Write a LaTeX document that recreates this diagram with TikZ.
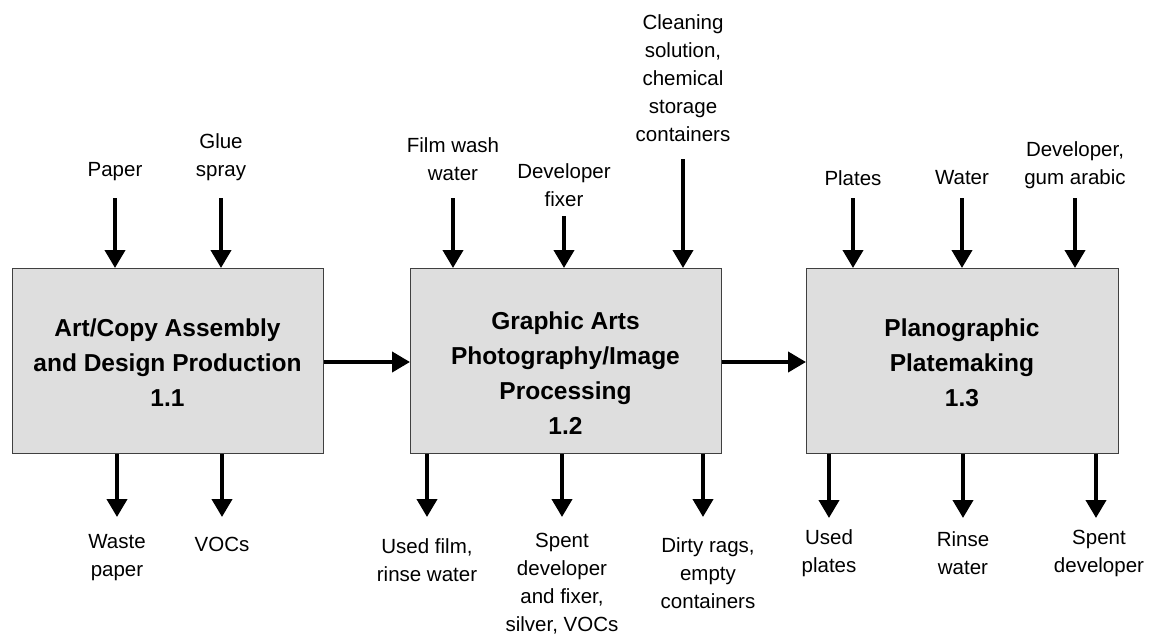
\documentclass[tikz,border=0pt]{standalone}
\usepackage{fontspec}
\setmainfont{Liberation Sans}
\usetikzlibrary{arrows.meta}
\tikzset{
  procbox/.style={draw=black!75, line width=1pt, fill=black!13, anchor=north west, inner sep=0pt},
  boxtext/.style={font=\fontsize{24.5}{35}\selectfont\bfseries, align=center, inner sep=0pt},
  lbl/.style={font=\fontsize{20.5}{28}\selectfont, align=center, inner sep=0pt},
  flow/.style={line width=4pt, -{Triangle[length=18pt,width=20pt]}},
}
\begin{document}
\begin{tikzpicture}[x=1pt,y=-1pt]
\useasboundingbox (0,0) rectangle (1151,643);
% boxes
\node[procbox, minimum width=311pt, minimum height=185pt] (b1) at (12,268) {};
\node[procbox, minimum width=311pt, minimum height=185pt] (b2) at (410,268) {};
\node[procbox, minimum width=312pt, minimum height=185pt] (b3) at (806,268) {};
\node[boxtext] (t1) at (167.5,363) {Art/Copy Assembly\\and Design Production\\1.1};
\node[boxtext] (t2) at (565.5,373) {Graphic Arts\\Photography/Image\\Processing\\1.2};
\node[boxtext] (t3) at (962,363) {Planographic\\Platemaking\\1.3};
% process flow
\draw[flow] (b1.east |- 0,362) -- (b2.west |- 0,362);
\draw[flow] (b2.east |- 0,362) -- (b3.west |- 0,362);
% input labels
\node[lbl] (lpaper) at (115,172) {Paper};
\node[lbl] (lglue) at (221,157) {Glue\\spray};
\node[lbl] (lfilm) at (453,159) {Film wash\\water};
\node[lbl] (ldevfix) at (564,185) {Developer\\fixer};
\node[lbl] (lclean) at (683,78) {Cleaning\\solution,\\chemical\\storage\\containers};
\node[lbl] (lplates) at (853,178) {Plates};
\node[lbl] (lwater) at (962,178) {Water};
\node[lbl] (ldevgum) at (1075,165) {Developer,\\gum arabic};
% input arrow starts
\coordinate (ipaper) at (115,198);
\coordinate (iglue) at (221,198);
\coordinate (ifilm) at (453,198);
\coordinate (idevfix) at (564,216);
\coordinate (iclean) at (683,159);
\coordinate (iplates) at (853,198);
\coordinate (iwater) at (962,198);
\coordinate (idevgum) at (1075,198);
\draw[flow] (ipaper) -- (ipaper |- b1.north);
\draw[flow] (iglue) -- (iglue |- b1.north);
\draw[flow] (ifilm) -- (ifilm |- b2.north);
\draw[flow] (idevfix) -- (idevfix |- b2.north);
\draw[flow] (iclean) -- (iclean |- b2.north);
\draw[flow] (iplates) -- (iplates |- b3.north);
\draw[flow] (iwater) -- (iwater |- b3.north);
\draw[flow] (idevgum) -- (idevgum |- b3.north);
% output arrow ends
\coordinate (owaste) at (117,517);
\coordinate (ovoc) at (222,517);
\coordinate (oused) at (427,517);
\coordinate (ospent) at (562,517);
\coordinate (odirty) at (703,517);
\coordinate (oplates) at (829,518);
\coordinate (orinse) at (963,518);
\coordinate (ospdev) at (1096,518);
\draw[flow] (owaste |- b1.south) -- (owaste);
\draw[flow] (ovoc |- b1.south) -- (ovoc);
\draw[flow] (oused |- b2.south) -- (oused);
\draw[flow] (ospent |- b2.south) -- (ospent);
\draw[flow] (odirty |- b2.south) -- (odirty);
\draw[flow] (oplates |- b3.south) -- (oplates);
\draw[flow] (orinse |- b3.south) -- (orinse);
\draw[flow] (ospdev |- b3.south) -- (ospdev);
% output labels
\node[lbl] (lwaste) at (117,558) {Waste\\paper};
\node[lbl] (lvoc) at (222,544) {VOCs};
\node[lbl] (lused) at (427,560) {Used film,\\rinse water};
\node[lbl] (lspent) at (562,584) {Spent\\developer\\and fixer,\\silver, VOCs};
\node[lbl] (ldirty) at (708,573) {Dirty rags,\\empty\\containers};
\node[lbl] (lusedpl) at (829,553) {Used\\plates};
\node[lbl] (lrinse) at (963,553) {Rinse\\water};
\node[lbl] (lspdev) at (1099,553) {Spent\\developer};
\end{tikzpicture}
\end{document}
